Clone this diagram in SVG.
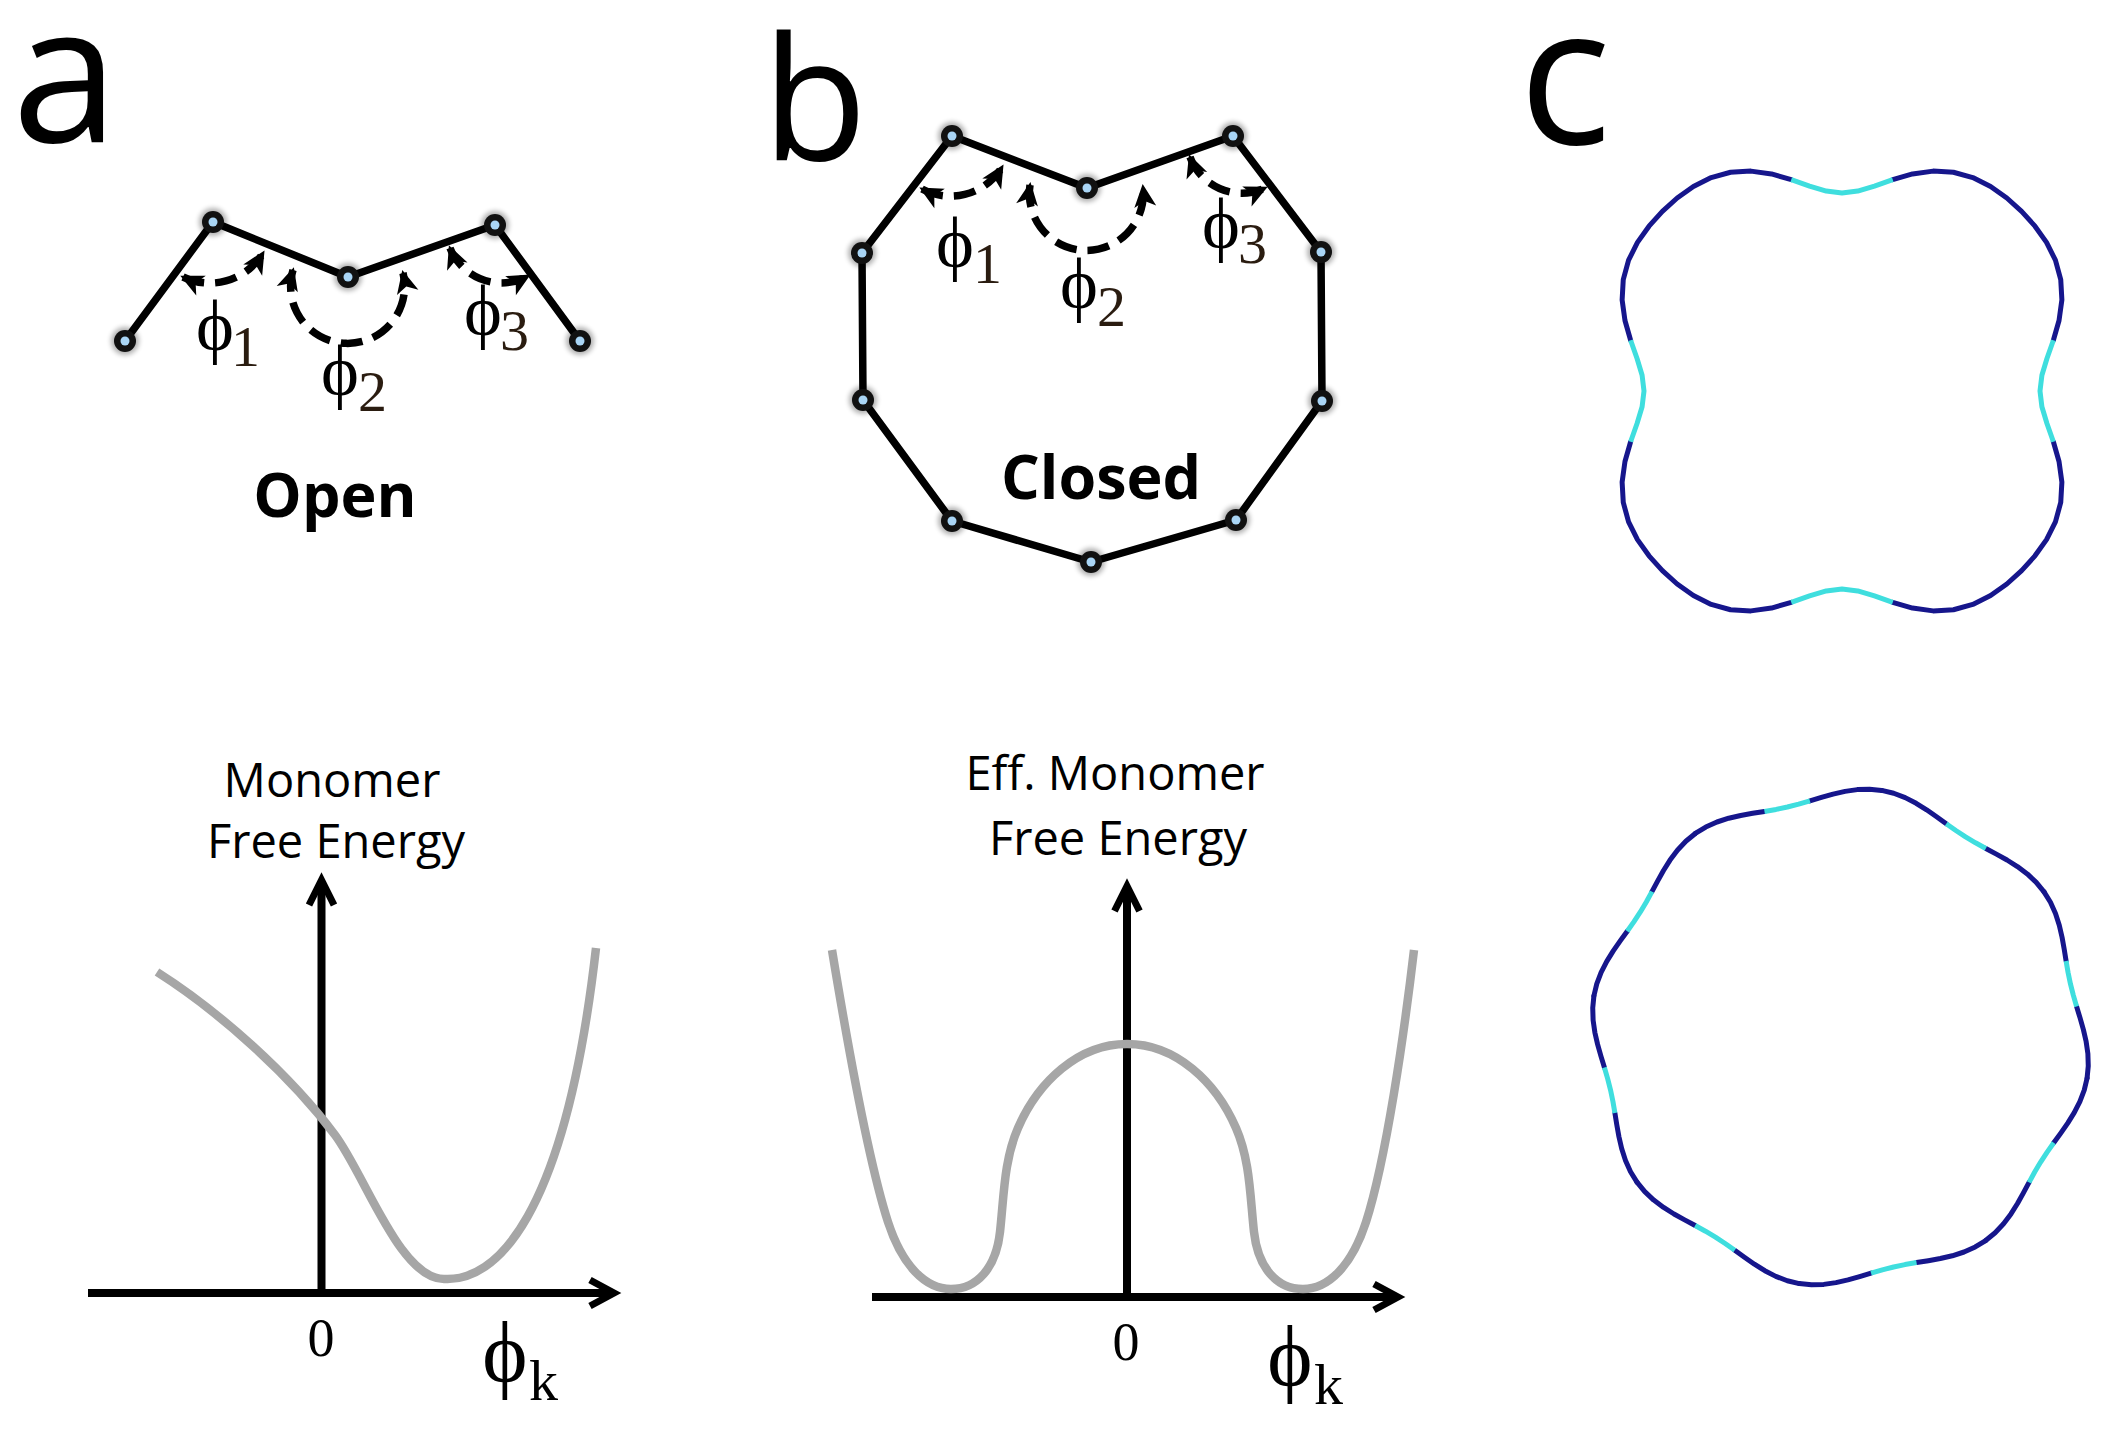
<svg xmlns="http://www.w3.org/2000/svg" xmlns:xlink="http://www.w3.org/1999/xlink" width="2108" height="1430" viewBox="0 0 2108 1430">
<style>
.panel{font-family:"Open Sans","Liberation Sans",sans-serif;font-size:192px;fill:#000}
.state{font-family:"Open Sans","Liberation Sans",sans-serif;font-weight:bold;font-size:61px;fill:#000;text-anchor:middle}
.ylab{font-family:"Open Sans","Liberation Sans",sans-serif;font-size:47px;fill:#000;text-anchor:middle}
.phi{font-family:"Liberation Serif","DejaVu Serif",serif;font-size:72px;fill:#000;text-anchor:middle}
.sub{font-family:"Liberation Serif","DejaVu Serif",serif;font-size:58px;fill:#2a1c10}
.zero{font-family:"Liberation Serif","DejaVu Serif",serif;font-size:54px;fill:#000;text-anchor:middle}
.chain{fill:none;stroke:#000;stroke-width:7.5;stroke-linejoin:round}
.dash{fill:none;stroke:#000;stroke-width:7.5;stroke-dasharray:22 11;marker-start:url(#ah);marker-end:url(#ah)}
.axis{fill:none;stroke:#000;stroke-width:8}
.head{fill:none;stroke:#000;stroke-width:7;stroke-linejoin:miter}
.curve{fill:none;stroke:#a6a6a6;stroke-width:8.5;stroke-linecap:butt}
.navy{fill:none;stroke:#16168c;stroke-width:5;stroke-linejoin:round;stroke-linecap:round}
.cyan{fill:none;stroke:#3fdede;stroke-width:5;stroke-linejoin:round;stroke-linecap:butt}
</style>
<defs>
<marker id="ah" viewBox="-26 -14 30 28" refX="0" refY="0" markerWidth="30" markerHeight="28" markerUnits="userSpaceOnUse" orient="auto-start-reverse">
<path d="M-20,-11 L3,0 L-20,11 L-14,0 Z" fill="#000"/>
</marker>
<filter id="glow" x="-50%" y="-50%" width="200%" height="200%"><feGaussianBlur stdDeviation="2.5"/></filter>
<g id="bead">
<circle r="14" fill="#000" opacity="0.3" filter="url(#glow)"/>
<circle r="11" fill="#111"/>
<circle r="4.5" fill="#a9d5f5"/>
</g>
<path id="c1lobe" d="M211.38,-50.75 L217.03,-70.52 L219.88,-91.08 L218.74,-111.45 L213.42,-130.79 L204.52,-148.59 L192.98,-164.82 L179.61,-179.61 L164.82,-192.98 L148.59,-204.52 L130.79,-213.42 L111.45,-218.74 L91.08,-219.88 L70.52,-217.03 L50.75,-211.38"/>
<path id="c1dip" d="M211.38,-50.75 L204.95,-32.46 L199.9,-15.73 L198,0 L199.9,15.73 L204.95,32.46 L211.38,50.75"/>
<path id="c2navy" d="M250,0 L249.17,12.24 L246.76,24.3 L243.02,36.05 L238.33,47.41 L233.12,58.39 L227.8,69.1 M209.94,112.22 L206.13,123.55 L202.05,135 L197.33,146.35 L191.67,157.3 L184.84,167.53 L176.78,176.78"/>
<path id="c2cyan" d="M227.8,69.1 L222.7,79.68 L218.04,90.31 L213.82,101.13 L209.94,112.22"/>
</defs>
<rect width="2108" height="1430" fill="#fff"/>

<!-- panel letters -->
<text class="panel" x="12" y="142">a</text>
<text class="panel" x="762" y="160" style="font-size:172px">b</text>
<text class="panel" x="1519" y="144">c</text>

<!-- connectors -->
<g id="connectors">
<polyline class="chain" points="125,341 213,222 348,277 495,225 580,341"/>
<polygon class="chain" points="952,136 1087,188 1233,136 1321,252 1322,401 1236,520 1091,562 952,521 863,400 862,253"/>
<path class="dash" d="M183,277 A62,62 0 0 0 263,253"/>
<path class="dash" d="M293,270 A57,57 0 1 0 403,273"/>
<path class="dash" d="M450,248 A55,55 0 0 0 528,276"/>
<path class="dash" d="M922,189 A60,60 0 0 0 1002,167"/>
<path class="dash" d="M1030,185 A57,57 0 1 0 1143,187"/>
<path class="dash" d="M1190,157 A55,55 0 0 0 1265,188"/>
</g>

<!-- open chain nodes -->
<g id="a-n1"><use xlink:href="#bead" x="125" y="341"/></g>
<g id="a-n2"><use xlink:href="#bead" x="213" y="222"/></g>
<g id="a-n3"><use xlink:href="#bead" x="348" y="277"/></g>
<g id="a-n4"><use xlink:href="#bead" x="495" y="225"/></g>
<g id="a-n5"><use xlink:href="#bead" x="580" y="341"/></g>

<!-- closed chain nodes -->
<g id="b-n1"><use xlink:href="#bead" x="952" y="136"/></g>
<g id="b-n2"><use xlink:href="#bead" x="1087" y="188"/></g>
<g id="b-n3"><use xlink:href="#bead" x="1233" y="136"/></g>
<g id="b-n4"><use xlink:href="#bead" x="1321" y="252"/></g>
<g id="b-n5"><use xlink:href="#bead" x="1322" y="401"/></g>
<g id="b-n6"><use xlink:href="#bead" x="1236" y="520"/></g>
<g id="b-n7"><use xlink:href="#bead" x="1091" y="562"/></g>
<g id="b-n8"><use xlink:href="#bead" x="952" y="521"/></g>
<g id="b-n9"><use xlink:href="#bead" x="863" y="400"/></g>
<g id="b-n10"><use xlink:href="#bead" x="862" y="253"/></g>

<!-- angle labels -->
<g id="a-labels">
<text class="phi" x="215" y="350">ϕ</text><text class="sub" x="231" y="366">1</text>
<text class="phi" x="340" y="395">ϕ</text><text class="sub" x="358" y="411">2</text>
<text class="phi" x="483" y="335">ϕ</text><text class="sub" x="500" y="350">3</text>
<text class="state" x="335" y="517">Open</text>
</g>
<g id="b-labels">
<text class="phi" x="955" y="267">ϕ</text><text class="sub" x="973" y="283">1</text>
<text class="phi" x="1079" y="308">ϕ</text><text class="sub" x="1097" y="326">2</text>
<text class="phi" x="1221" y="248">ϕ</text><text class="sub" x="1238" y="263">3</text>
<text class="state" x="1101" y="499">Closed</text>
</g>

<!-- graph a -->
<g id="graph-a">
<text class="ylab" x="332" y="797">Monomer</text>
<text class="ylab" x="336" y="858">Free Energy</text>
<line class="axis" x1="321.5" y1="1297" x2="321.5" y2="882"/>
<polyline class="head" points="309,905 321.5,880 334,905"/>
<line class="axis" x1="88" y1="1293" x2="612" y2="1293"/>
<polyline class="head" points="590,1280 614,1293 590,1306"/>
<path class="curve" d="M157,972 C220,1012 290,1075 335,1135 C365,1175 400,1279 444,1279 C495,1282 565,1220 596,948"/>
<text class="zero" x="321" y="1356">0</text>
<text class="phi" x="505" y="1381" style="font-size:86px">ϕ</text>
<text class="sub" x="529" y="1400" style="fill:#000">k</text>
</g>

<!-- graph b -->
<g id="graph-b">
<text class="ylab" x="1115" y="790">Eff. Monomer</text>
<text class="ylab" x="1118" y="855">Free Energy</text>
<line class="axis" x1="1127" y1="1301" x2="1127" y2="888"/>
<polyline class="head" points="1114.5,911 1127,886 1139.5,911"/>
<line class="axis" x1="872" y1="1297" x2="1396" y2="1297"/>
<polyline class="head" points="1374,1284 1398,1297 1374,1310"/>
<path class="curve" d="M832,950 C846,1035 868,1160 888,1222 C902,1265 925,1289 951,1289 C977,1289 996,1268 1000,1232 C1004,1195 1004,1160 1018,1128 C1038,1082 1078,1044 1127,1044 C1176,1044 1216,1082 1236,1128 C1250,1160 1250,1195 1254,1232 C1258,1268 1277,1289 1303,1289 C1329,1289 1352,1265 1366,1222 C1386,1160 1404,1035 1414,950"/>
<text class="zero" x="1126" y="1360">0</text>
<text class="phi" x="1290" y="1385" style="font-size:86px">ϕ</text>
<text class="sub" x="1314" y="1404" style="fill:#000">k</text>
</g>

<!-- panel c shapes -->
<g id="c-four" transform="translate(1842,391)">
<use xlink:href="#c1lobe" class="navy"/>
<use xlink:href="#c1lobe" class="navy" transform="rotate(90)"/>
<use xlink:href="#c1lobe" class="navy" transform="rotate(180)"/>
<use xlink:href="#c1lobe" class="navy" transform="rotate(270)"/>
<use xlink:href="#c1dip" class="cyan"/>
<use xlink:href="#c1dip" class="cyan" transform="rotate(90)"/>
<use xlink:href="#c1dip" class="cyan" transform="rotate(180)"/>
<use xlink:href="#c1dip" class="cyan" transform="rotate(270)"/>
</g>
<g id="c-eight" transform="translate(1840.5,1037) rotate(9.5)">
<use xlink:href="#c2navy" class="navy"/>
<use xlink:href="#c2navy" class="navy" transform="rotate(45)"/>
<use xlink:href="#c2navy" class="navy" transform="rotate(90)"/>
<use xlink:href="#c2navy" class="navy" transform="rotate(135)"/>
<use xlink:href="#c2navy" class="navy" transform="rotate(180)"/>
<use xlink:href="#c2navy" class="navy" transform="rotate(225)"/>
<use xlink:href="#c2navy" class="navy" transform="rotate(270)"/>
<use xlink:href="#c2navy" class="navy" transform="rotate(315)"/>
<use xlink:href="#c2cyan" class="cyan"/>
<use xlink:href="#c2cyan" class="cyan" transform="rotate(45)"/>
<use xlink:href="#c2cyan" class="cyan" transform="rotate(90)"/>
<use xlink:href="#c2cyan" class="cyan" transform="rotate(135)"/>
<use xlink:href="#c2cyan" class="cyan" transform="rotate(180)"/>
<use xlink:href="#c2cyan" class="cyan" transform="rotate(225)"/>
<use xlink:href="#c2cyan" class="cyan" transform="rotate(270)"/>
<use xlink:href="#c2cyan" class="cyan" transform="rotate(315)"/>
</g>
</svg>
